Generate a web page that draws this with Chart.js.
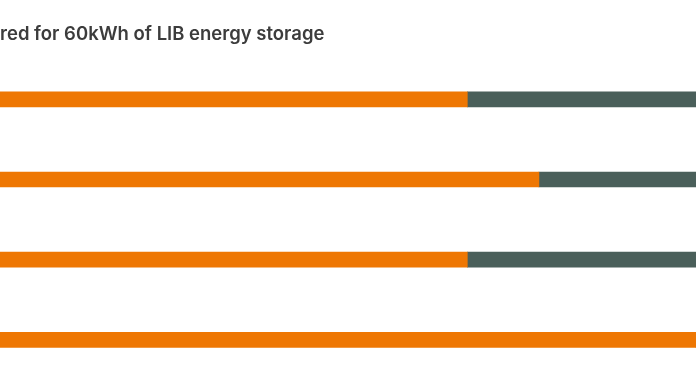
<!DOCTYPE html>
<html>
<head>
<meta charset="utf-8">
<script src="https://cdn.jsdelivr.net/npm/chart.js@4/dist/chart.umd.min.js"></script>
<style>
  html, body { margin: 0; padding: 0; background: #fff; overflow: hidden; }
  #wrap { position: relative; width: 696px; height: 385px; }
</style>
</head>
<body>
<div id="wrap"><canvas id="grafico"></canvas></div>
<script>
// Datos (vista recortada del gráfico original)
const categorias = ['Fila 1', 'Fila 2', 'Fila 3', 'Fila 4'];
const valoresNaranja = [77, 84.2, 77, 100];
const valoresGris = [23, 15.8, 23, 0];
const tituloTexto = 'red for 60kWh of LIB energy storage';

const ctx = document.getElementById('grafico').getContext('2d');

new Chart(ctx, {
    type: 'bar',
    data: {
        labels: categorias,
        datasets: [
            {
                label: 'Naranja',
                data: valoresNaranja,
                backgroundColor: '#ee7703',
                borderWidth: 0,
                barThickness: 15
            },
            {
                label: 'Gris',
                data: valoresGris,
                backgroundColor: '#4a5f5a',
                borderWidth: 0,
                barThickness: 15
            }
        ]
    },
    options: {
        indexAxis: 'y',
        responsive: true,
        maintainAspectRatio: false,
        animation: false,
        layout: { padding: { top: 0, left: 0, right: 0, bottom: 5 } },
        scales: {
            x: {
                stacked: true,
                min: 30,
                max: 100,
                display: false
            },
            y: {
                stacked: true,
                display: false
            }
        },
        plugins: {
            legend: { display: false },
            tooltip: { enabled: false },
            title: {
                display: true,
                text: tituloTexto,
                align: 'start',
                color: '#3c3c3c',
                font: { family: 'Inter', size: 18.5, weight: '600' },
                padding: { top: 23, bottom: 14 }
            }
        }
    }
});
</script>
</body>
</html>
